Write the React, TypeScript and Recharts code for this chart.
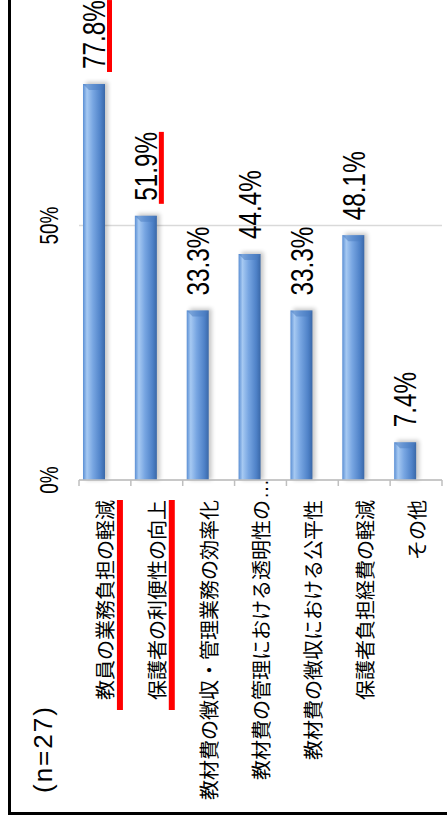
import React from "react";
import { BarChart, Bar, XAxis, YAxis, CartesianGrid, LabelList } from "recharts";

const categories = [
  "教員の業務負担の軽減",
  "保護者の利便性の向上",
  "教材費の徴収・管理業務の効率化",
  "教材費の管理における透明性の…",
  "教材費の徴収における公平性",
  "保護者負担経費の軽減",
  "その他",
];
const values = [77.8, 51.9, 33.3, 44.4, 33.3, 48.1, 7.4];
const highlighted = [true, true, false, false, false, false, false];
const valueTicks = [0, 50];
const valueDomain = [0, 100];
const sampleNote = "(n=27)";

const data = categories.map((name, i) => ({ name, value: values[i] }));

const JP = '"Noto Sans CJK JP", "Noto Sans CJK SC", sans-serif';
const NUM = '"Liberation Sans", Arial, sans-serif';

const charW = (c: string) => (c === "." ? 0.278 : c === "%" ? 0.889 : 0.556);
const textWidth = (s: string, size: number) =>
  s.split("").reduce((a, c) => a + charW(c) * size, 0);

const ValueTick = (props: any) => {
  const { x, y, payload } = props;
  return (
    <g transform={`translate(${x},${y - 29})`}>
      <g transform="scale(0.76,1)">
        <text x={0} y={0} textAnchor="middle" dominantBaseline="central" fontSize={25} fontFamily={NUM} fill="#000">
          {`${payload.value}%`}
        </text>
      </g>
    </g>
  );
};

const CategoryTick = (props: any) => {
  const { x, y, payload } = props;
  const index = props.index ?? payload.index ?? 0;
  const half = payload.offset ?? 26;
  const label: string = payload.value;
  const ell = label.endsWith("…");
  const main = ell ? label.slice(0, -1) : label;
  const tx = x - 20;
  const fs = 20;
  const w = main.length * fs + 10;
  return (
    <g>
      <line x1={x} x2={x - 6} y1={y - half} y2={y - half} stroke="#bfbfbf" strokeWidth={1.5} />
      {index === categories.length - 1 && (
        <line x1={x} x2={x - 6} y1={y + half} y2={y + half} stroke="#bfbfbf" strokeWidth={1.5} />
      )}
      <text x={tx} y={y} textAnchor="end" dominantBaseline="central" fontSize={fs} fontFamily={JP} fill="#000">
        {main}
      </text>
      {ell && (
        <text x={tx + 1} y={y} textAnchor="start" dominantBaseline="central" fontSize={fs} fontFamily={NUM} fill="#000">
          …
        </text>
      )}
      {highlighted[index] && <rect x={tx - w} y={y + 12} width={w} height={6} fill="#ff0000" />}
    </g>
  );
};

const ValueLabel = (props: any) => {
  const { x, y, width, height, value, index } = props;
  const tx = x + width + 15;
  const ty = y + height / 2;
  const txt = `${Number(value).toFixed(1)}%`;
  const w = textWidth(txt, 32) * 0.76;
  return (
    <g transform={`translate(${tx},${ty})`}>
      <g transform="scale(0.76,1)">
        <text x={0} y={0} dominantBaseline="central" fontSize={32} fontFamily={NUM} fill="#000">
          {txt}
        </text>
      </g>
      {highlighted[index] && <rect x={-3} y={13} width={w + 3} height={5} fill="#ff0000" />}
    </g>
  );
};

const BarShape = (props: any) => {
  const { x, y, width, height } = props;
  if (!width || !height) return null;
  return (
    <g>
      <rect x={x} y={y + 3} width={width + 2} height={height} fill="#000" opacity={0.22} filter="url(#barShadow)" />
      <rect x={x} y={y} width={width} height={height} fill="url(#barGrad)" />
      <path d={`M${x + width},${y} L${x + width - 6},${y + 6} L${x + width - 6},${y + height - 4} L${x + width},${y + height} Z`} fill="#4a7bc0" opacity={0.5} />
    </g>
  );
};

export default function App() {
  return (
    <div style={{ position: "absolute", left: 0, top: 0, width: 447, height: 827, overflow: "hidden", background: "#fff" }}>
      <svg width={0} height={0} style={{ position: "absolute" }}>
        <defs>
          <linearGradient id="barGrad" x1="0" y1="0" x2="0" y2="1">
            <stop offset="0" stopColor="#5b8fd4" />
            <stop offset="0.18" stopColor="#a6c9f2" />
            <stop offset="0.45" stopColor="#78a6e2" />
            <stop offset="0.8" stopColor="#4f82c8" />
            <stop offset="1" stopColor="#3a68a8" />
          </linearGradient>
          <filter id="barShadow" x="-20%" y="-20%" width="140%" height="160%">
            <feGaussianBlur stdDeviation="2" />
          </filter>
        </defs>
      </svg>
      <div
        style={{
          position: "absolute",
          left: 0,
          top: 0,
          width: 900,
          height: 480,
          transformOrigin: "0 0",
          transform: "translate(0px, 827px) rotate(-90deg)",
        }}
      >
        <div
          style={{
            position: "absolute",
            left: 12,
            top: 8,
            width: 1000,
            height: 1000,
            border: "3px solid #000",
            boxSizing: "border-box",
          }}
        />
        <div style={{ position: "absolute", left: 0, top: 0 }}>
          <BarChart
            width={900}
            height={480}
            data={data}
            layout="vertical"
            margin={{ top: 0, right: 44, bottom: 38, left: 0 }}
            barGap={0}
          >
            <CartesianGrid horizontal={false} stroke="#d9d9d9" strokeWidth={1.5} />
            <XAxis
              type="number"
              orientation="top"
              domain={valueDomain}
              ticks={valueTicks}
              height={79}
              axisLine={false}
              tickLine={false}
              tickSize={0}
              tickMargin={0}
              tick={<ValueTick />}
              interval={0}
            />
            <YAxis
              type="category"
              dataKey="name"
              width={347}
              axisLine={{ stroke: "#bfbfbf", strokeWidth: 1.5 }}
              tickLine={false}
              tickSize={0}
              tickMargin={0}
              tick={<CategoryTick />}
              interval={0}
            />
            <Bar dataKey="value" barSize={22} shape={<BarShape />} isAnimationActive={false}>
              <LabelList dataKey="value" content={<ValueLabel />} />
            </Bar>
            <Bar dataKey="pad" barSize={22} fill="transparent" isAnimationActive={false} />
          </BarChart>
        </div>
        <svg width={140} height={70} style={{ position: "absolute", left: 0, top: 0 }}>
          <text
            x={34}
            y={43}
            dominantBaseline="central"
            fontSize={26}
            letterSpacing={2}
            fontFamily={NUM}
            fill="#000"
          >
            {sampleNote}
          </text>
        </svg>
      </div>
    </div>
  );
}
